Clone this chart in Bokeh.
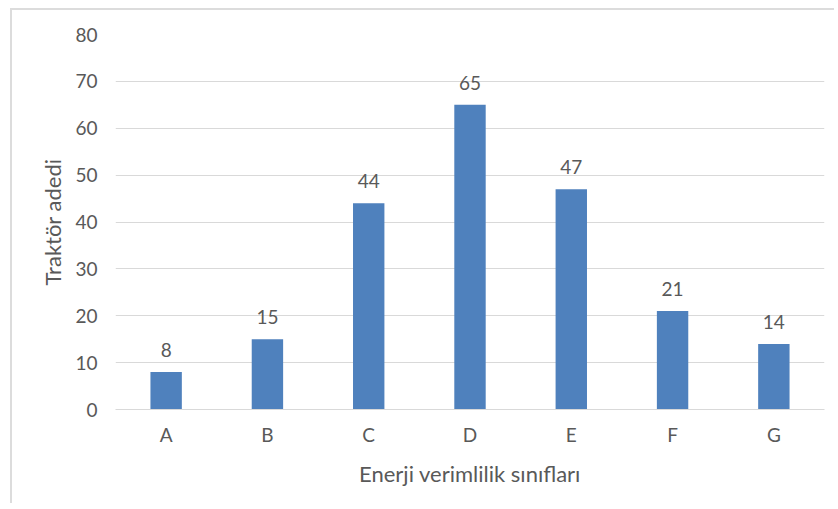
from bokeh.plotting import figure
from bokeh.models import ColumnDataSource, FactorRange, Range1d, FixedTicker, LabelSet
from bokeh.core.properties import value
from bokeh.embed import file_html
from bokeh.resources import INLINE

categories = ["A", "B", "C", "D", "E", "F", "G"]
counts = [8, 15, 44, 65, 47, 21, 14]
y_ticks = [0, 10, 20, 30, 40, 50, 60, 70, 80]
x_title = "Enerji verimlilik sınıfları"
y_title = "Traktör adedi"

FONT = "Lato"
TEXT = "#595959"
GRID = "#d9d9d9"
BAR = "#4f81bd"

src = ColumnDataSource(dict(cat=categories, val=counts, lab=[str(v) for v in counts]))

p = figure(
    width=824, height=495,
    x_range=FactorRange(*categories),
    y_range=Range1d(0, 80),
    output_backend="svg", toolbar_location=None,
    min_border_left=103, min_border_right=12, min_border_top=24, min_border_bottom=96,
)
p.styles = {"border-top": "2px solid #dcdcdc", "border-left": "2px solid #dcdcdc",
            "margin-left": "10px", "margin-top": "8px"}
p.outline_line_color = None
p.background_fill_color = "white"
p.border_fill_color = "white"

p.vbar(x="cat", top="val", width=0.31, source=src, fill_color=BAR, line_color=None)

labels = LabelSet(x="cat", y="val", text="lab", source=src, text_align="center",
                  text_baseline="alphabetic", y_offset=15, text_font=value(FONT),
                  text_font_size=value("19px"), text_color=TEXT)
p.add_layout(labels)

p.yaxis.ticker = FixedTicker(ticks=y_ticks)
p.ygrid.ticker = FixedTicker(ticks=y_ticks)
p.ygrid.grid_line_color = GRID
p.xgrid.grid_line_color = None

for ax in (p.xaxis[0], p.yaxis[0]):
    ax.major_tick_line_color = None
    ax.minor_tick_line_color = None
    ax.major_tick_out = 0
    ax.major_tick_in = 0
    ax.minor_tick_out = 0
    ax.major_label_text_font = FONT
    ax.major_label_text_font_size = "19px"
    ax.major_label_text_color = TEXT
    ax.axis_label_text_font = FONT
    ax.axis_label_text_font_size = "22px"
    ax.axis_label_text_color = TEXT
    ax.axis_label_text_font_style = "normal"

p.xaxis.axis_line_color = GRID
p.yaxis.axis_line_color = None
p.xaxis.axis_label = x_title
p.yaxis.axis_label = y_title
p.xaxis.major_label_standoff = 13
p.yaxis.major_label_standoff = 18
p.xaxis.axis_label_standoff = 11
p.yaxis.axis_label_standoff = 6

open("out.html", "w").write(file_html(p, INLINE))
